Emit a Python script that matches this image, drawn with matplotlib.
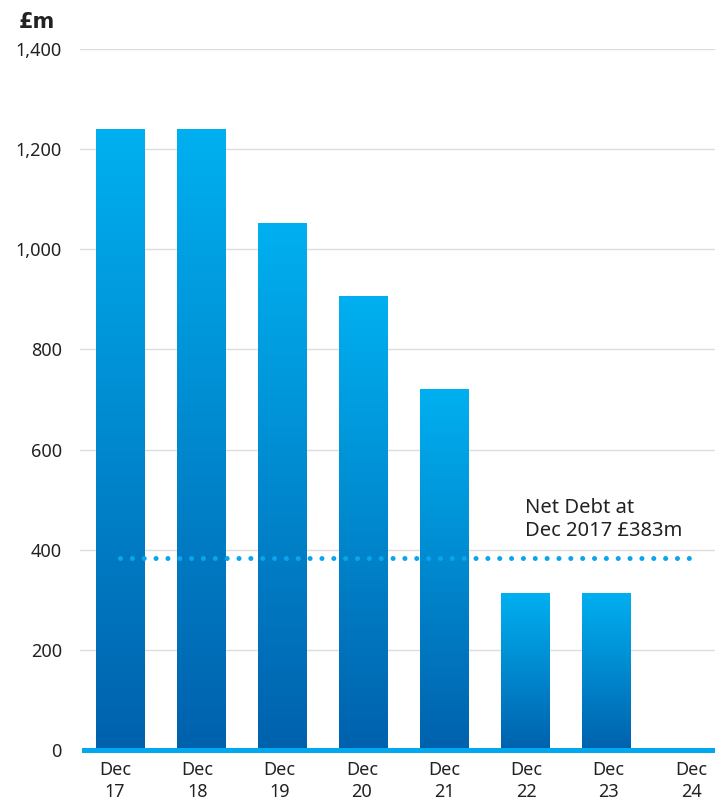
import numpy as np
import matplotlib.pyplot as plt
from matplotlib.colors import LinearSegmentedColormap

labels = ['Dec\n17', 'Dec\n18', 'Dec\n19', 'Dec\n20', 'Dec\n21', 'Dec\n22', 'Dec\n23', 'Dec\n24']
values = [1240, 1240, 1052, 907, 721, 313, 313, 0]
net_debt = 383
note = 'Net Debt at\nDec 2017 £383m'

plt.rcParams['font.family'] = ['Noto Sans', 'DejaVu Sans']

fig = plt.figure(figsize=(7.15, 8.02), dpi=100)
ax = fig.add_axes([80 / 715, 52 / 802, 635 / 715, 701 / 802])

x = np.arange(len(values))
grad = LinearSegmentedColormap.from_list('g', ['#0061ad', '#00b0f0'])
gimg = np.linspace(0, 1, 256).reshape(-1, 1)

bars = ax.bar(x, values, width=0.6, color='none', edgecolor='none', zorder=3)
for b, v in zip(bars, values):
    if v <= 0:
        continue
    im = ax.imshow(gimg, cmap=grad, aspect='auto', origin='lower',
                   extent=(b.get_x(), b.get_x() + b.get_width(), 0, v), zorder=3)
    im.set_clip_path(b)

# net debt reference line (round dots)
ax.plot([x[0] - 0.01, x[-1] + 0.02], [net_debt, net_debt], color='#08a6ee',
        lw=3.6, linestyle=(0, (0.01, 2.36)), dash_capstyle='round', zorder=4)
ax.text(x[5] - 0.01, 503, note, fontsize=14.5, color='#222222',
        ha='left', va='top', linespacing=1.2)

ax.set_xlim(-0.5, 7.34)
ax.set_ylim(0, 1400)
ax.set_yticks(range(0, 1401, 200))
ax.set_yticklabels([f'{v:,}' for v in range(0, 1401, 200)])
# category labels sit on a slightly wider spacing than the bars
ax.set_xticks((x * 82.3 - 5.5) / 81)
ax.set_xticklabels(labels, linespacing=1.25)
ax.grid(axis='y', color='#dddddd', lw=1, zorder=0)
ax.axhline(0, xmin=4 / 635, xmax=1, color='#00a8ee', lw=3.6, clip_on=False, zorder=5)

for s in ax.spines.values():
    s.set_visible(False)
ax.tick_params(axis='y', length=0, labelsize=13, labelcolor='#222222', pad=13)
ax.tick_params(axis='x', length=0, labelsize=13, labelcolor='#222222', pad=8)

fig.text(19 / 715, 1 - 22 / 802, '£m', fontsize=15, fontweight='bold', color='#222222',
         family='DejaVu Sans', ha='left', va='center')

fig.savefig('out.png', dpi=100)
